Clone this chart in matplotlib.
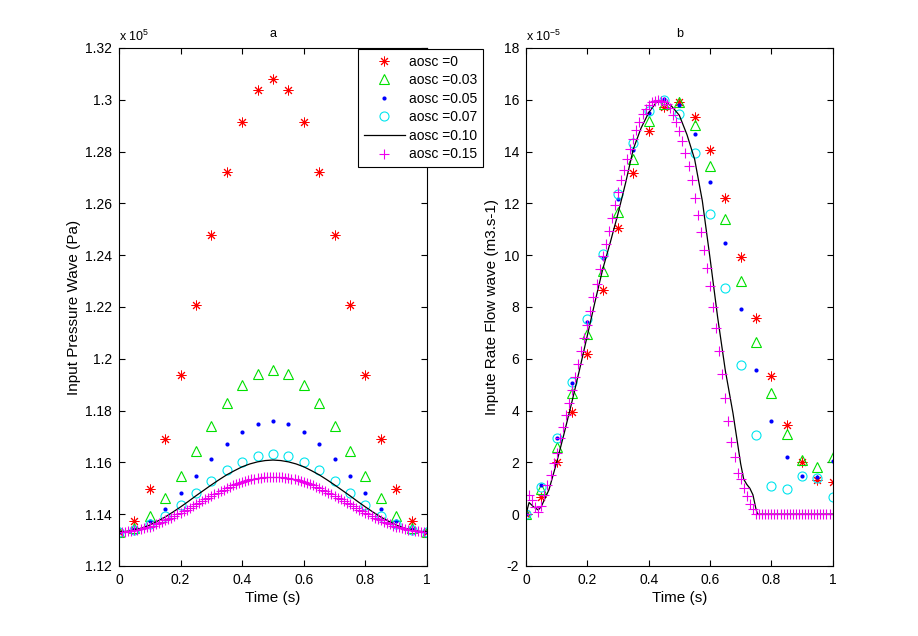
import numpy as np
import matplotlib
matplotlib.use("Agg")
import matplotlib.pyplot as plt
from matplotlib.ticker import FuncFormatter

plt.rcParams['font.family'] = ['Liberation Sans', 'DejaVu Sans']
plt.rcParams['mathtext.default'] = 'regular'
plt.rcParams['font.size'] = 10

# sample times
t_coarse = np.linspace(0, 1, 21)
t_fine = np.linspace(0, 1, 101)
t_line_a = np.linspace(0, 1, 41)

labels = ["aosc =0", "aosc =0.03", "aosc =0.05", "aosc =0.07", "aosc =0.10", "aosc =0.15"]

# panel a: input pressure (x 1e5 Pa)
p_a0 = [1.1332, 1.1375, 1.1499, 1.1692, 1.1936, 1.2206, 1.2476, 1.2720, 1.2913, 1.3037, 1.3080,
        1.3037, 1.2913, 1.2720, 1.2476, 1.2206, 1.1936, 1.1692, 1.1499, 1.1375, 1.1332]
p_a03 = [1.1332, 1.1347, 1.1392, 1.1461, 1.1548, 1.1645, 1.1741, 1.1828, 1.1897, 1.1942, 1.1957,
         1.1942, 1.1897, 1.1828, 1.1741, 1.1645, 1.1548, 1.1461, 1.1392, 1.1347, 1.1332]
p_a05 = [1.1332, 1.1342, 1.1373, 1.1420, 1.1480, 1.1546, 1.1612, 1.1672, 1.1719, 1.1750, 1.1760,
         1.1750, 1.1719, 1.1672, 1.1612, 1.1546, 1.1480, 1.1420, 1.1373, 1.1342, 1.1332]
p_a07 = [1.1332, 1.1339, 1.1361, 1.1394, 1.1436, 1.1482, 1.1528, 1.1570, 1.1603, 1.1625, 1.1632,
         1.1625, 1.1603, 1.1570, 1.1528, 1.1482, 1.1436, 1.1394, 1.1361, 1.1339, 1.1332]
p_a10 = [1.1332, 1.1334, 1.1339, 1.1347, 1.1358, 1.1373, 1.1389, 1.1408, 1.1428, 1.1449, 1.1471,
         1.1492, 1.1513, 1.1533, 1.1552, 1.1568, 1.1583, 1.1594, 1.1602, 1.1607, 1.1609,
         1.1607, 1.1602, 1.1594, 1.1583, 1.1568, 1.1552, 1.1533, 1.1513, 1.1492, 1.1471,
         1.1449, 1.1428, 1.1408, 1.1389, 1.1373, 1.1358, 1.1347, 1.1339, 1.1334, 1.1332]
p_a15 = [1.1332, 1.1332, 1.1333, 1.1334, 1.1335, 1.1337, 1.1339, 1.1342, 1.1345, 1.1349,
         1.1352, 1.1356, 1.1361, 1.1365, 1.1370, 1.1376, 1.1381, 1.1387, 1.1393, 1.1399,
         1.1405, 1.1412, 1.1418, 1.1425, 1.1431, 1.1438, 1.1445, 1.1451, 1.1458, 1.1464,
         1.1471, 1.1477, 1.1483, 1.1489, 1.1495, 1.1500, 1.1506, 1.1511, 1.1515, 1.1520,
         1.1524, 1.1528, 1.1531, 1.1534, 1.1537, 1.1539, 1.1541, 1.1542, 1.1543, 1.1544,
         1.1544,
         1.1544, 1.1543, 1.1542, 1.1541, 1.1539, 1.1537, 1.1534, 1.1531, 1.1528, 1.1524,
         1.1520, 1.1515, 1.1511, 1.1506, 1.1500, 1.1495, 1.1489, 1.1483, 1.1477, 1.1471,
         1.1464, 1.1458, 1.1451, 1.1445, 1.1438, 1.1431, 1.1425, 1.1418, 1.1412, 1.1405,
         1.1399, 1.1393, 1.1387, 1.1381, 1.1376, 1.1370, 1.1365, 1.1361, 1.1356, 1.1352,
         1.1349, 1.1345, 1.1342, 1.1339, 1.1337, 1.1335, 1.1334, 1.1333, 1.1332, 1.1332]

# panel b: input flow rate (x 1e-5 m3/s)
q_a0 = [0, 0.66, 2.02, 3.93, 6.20, 8.64, 11.06, 13.16, 14.80, 15.71, 15.90,
        15.32, 14.06, 12.20, 9.94, 7.56, 5.34, 3.44, 2.03, 1.32, 1.23]
q_a03 = [0, 0.96, 2.61, 4.67, 6.96, 9.39, 11.68, 13.71, 15.18, 15.85, 15.93,
         15.03, 13.46, 11.39, 9.02, 6.66, 4.67, 3.08, 2.09, 1.83, 2.20]
q_a05 = [0, 1.13, 2.93, 5.05, 7.43, 9.88, 12.16, 14.06, 15.50, 16.02, 15.80,
         14.67, 12.81, 10.46, 7.91, 5.57, 3.60, 2.20, 1.47, 1.42, 2.05]
q_a07 = [0, 1.05, 2.95, 5.12, 7.52, 10.05, 12.36, 14.32, 15.55, 16.00, 15.45,
         13.93, 11.59, 8.72, 5.76, 3.06, 1.09, 0.96, 1.47, 1.39, 0.65]
t_line_b = [0, 0.01, 0.025, 0.04, 0.05, 0.075, 0.1, 0.125, 0.15, 0.175, 0.2, 0.225, 0.25,
            0.275, 0.3, 0.325, 0.35, 0.375, 0.4, 0.425, 0.45, 0.475, 0.5, 0.525, 0.55,
            0.575, 0.6, 0.625, 0.65, 0.675, 0.7, 0.71, 0.72, 0.73, 0.74, 0.75, 0.755, 1.0]
q_a10 = [0, 0.45, 0.28, 0.16, 0.30, 0.95, 2.0, 3.15, 4.35, 5.6, 6.9, 8.2, 9.45,
         10.5, 11.6, 12.8, 14.1, 14.9, 15.5, 15.9, 15.95, 15.75, 15.4, 14.65, 13.7,
         12.1, 9.9, 7.6, 5.55, 3.9, 1.95, 1.35, 1.15, 1.0, 0.75, 0.2, 0, 0]
q_a15 = [0.00, 0.75, 0.55, 0.28, 0.10, 0.32, 0.73, 1.13, 1.51, 1.99,
         2.38, 2.93, 3.38, 3.83, 4.28, 4.78, 5.28, 5.80, 6.30, 6.80,
         7.30, 7.85, 8.40, 8.90, 9.45, 9.95, 10.45, 10.95, 11.45, 11.95,
         12.45, 12.90, 13.30, 13.70, 14.10, 14.50, 14.85, 15.15, 15.45, 15.65,
         15.80, 15.90, 15.97, 16.00, 15.97, 15.92, 15.85, 15.70, 15.42, 15.15,
         14.80, 14.40, 13.95, 13.45, 12.90, 12.20, 11.55, 10.90, 10.20, 9.50,
         8.80, 8.00, 7.20, 6.30, 5.40, 4.50, 3.60, 2.80, 2.20, 1.60,
         1.35, 1.00, 0.70, 0.40, 0.20, 0.02, 0, 0, 0, 0,
         0, 0, 0, 0, 0, 0, 0, 0, 0, 0,
         0, 0, 0, 0, 0, 0, 0, 0, 0, 0,
         0]

star = (8, 2, 0)


def draw(ax, c0, c03, c05, c07, tl, c10, c15):
    ax.plot(t_coarse, c0, ls='none', marker=star, ms=7, mec='#ff0000', mew=0.7, label=labels[0])
    ax.plot(t_coarse, c03, ls='none', marker='^', ms=6.5, mfc='none', mec='#00e000', mew=0.8, label=labels[1])
    ax.plot(t_coarse, c05, ls='none', marker='o', ms=3, mfc='#0000ff', mec='#0000ff', mew=0, label=labels[2])
    ax.plot(t_coarse, c07, ls='none', marker='o', ms=6.5, mfc='none', mec='#00e5ee', mew=0.8, label=labels[3])
    ax.plot(tl, c10, color='k', lw=0.9, label=labels[4])
    ax.plot(t_fine, c15, ls='none', marker='+', ms=7, mec='#ee00ee', mew=0.8, label=labels[5])
    ax.set_xlim(0, 1)
    ax.set_xticks([0, 0.2, 0.4, 0.6, 0.8, 1])
    ax.xaxis.set_major_formatter(FuncFormatter(lambda v, p: '%g' % v))
    ax.yaxis.set_major_formatter(FuncFormatter(lambda v, p: '%g' % round(v, 4)))
    ax.tick_params(direction='in', top=True, right=True, length=4, width=0.8, pad=5)
    for s in ax.spines.values():
        s.set_linewidth(0.8)
    ax.set_xlabel("Time (s)", fontsize=11, labelpad=3)


fig = plt.figure(figsize=(9.18, 6.36), dpi=100)
ax1 = fig.add_axes([0.1296, 0.1101, 0.3355, 0.8145])
ax2 = fig.add_axes([0.5730, 0.1101, 0.3340, 0.8145])

draw(ax1, p_a0, p_a03, p_a05, p_a07, t_line_a, p_a10, p_a15)
ax1.set_ylim(1.12, 1.32)
ax1.set_yticks(np.arange(1.12, 1.3201, 0.02))
ax1.set_ylabel("Input Pressure Wave (Pa)", fontsize=11, labelpad=3)
ax1.set_title("a", fontsize=9, pad=8)
ax1.text(0.0, 1.008, r"x 10$^{5}$", transform=ax1.transAxes, fontsize=9, va='bottom')

draw(ax2, q_a0, q_a03, q_a05, q_a07, t_line_b, q_a10, q_a15)
ax2.set_ylim(-2, 18)
ax2.set_yticks(np.arange(-2, 18.1, 2))
ax2.set_ylabel("Inpute Rate Flow wave (m3.s-1)", fontsize=11, labelpad=3)
ax2.set_title("b", fontsize=9, pad=8)
ax2.text(0.0, 1.008, r"x 10$^{-5}$", transform=ax2.transAxes, fontsize=9, va='bottom')

leg = ax1.legend(loc='upper left', bbox_to_anchor=(358 / 918, 1 - 49 / 636),
                 bbox_transform=fig.transFigure, fontsize=10, frameon=True, fancybox=False,
                 edgecolor='k', framealpha=1, handlelength=3.0, handletextpad=0.3,
                 labelspacing=0.33, borderpad=0.4, borderaxespad=0)
leg.get_frame().set_linewidth(0.8)
leg.set_zorder(10)

fig.savefig("out.png", dpi=100, facecolor='white')
